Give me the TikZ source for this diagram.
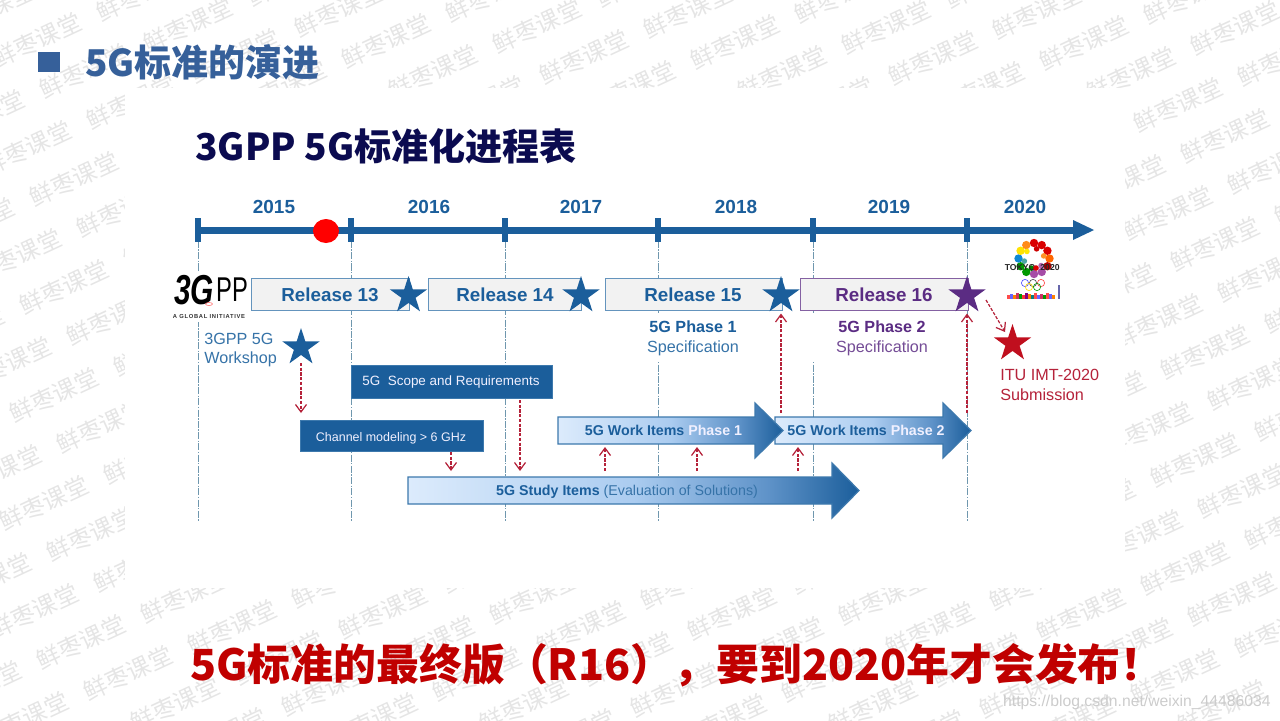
\documentclass[tikz,border=0pt]{standalone}
\usepackage{fontspec}
\setmainfont{Liberation Sans}
\newfontfamily\cjk{Noto Sans CJK SC}
\usetikzlibrary{arrows.meta,shapes.geometric}
\definecolor{barblue}{HTML}{1B5E9B}
\definecolor{softblue}{HTML}{3673A8}
\definecolor{edgeblue}{HTML}{3D79AD}
\definecolor{guideblue}{HTML}{6F97AE}
\definecolor{relpurple}{HTML}{5B2C83}
\definecolor{titleblue}{HTML}{36609A}
\definecolor{titlenavy}{HTML}{0B0B50}
\definecolor{slogred}{HTML}{C00000}
\definecolor{linkred}{HTML}{B5223A}
\definecolor{ituRed}{HTML}{C00F1E}
\definecolor{fadeA}{HTML}{DCEBFC}
\definecolor{fadeB}{HTML}{ABCCF0}
\definecolor{fadeC}{HTML}{5E92C8}
\pgfdeclarehorizontalshading{blockfade}{100bp}{color(0bp)=(fadeA); color(25bp)=(fadeA); color(50bp)=(fadeB); color(65bp)=(fadeC); color(75bp)=(barblue); color(100bp)=(barblue)}
\tikzset{
    mark text/.style={font=\cjk\fontsize{13.6}{15}\selectfont, text=black!10, rotate=25, inner sep=0},
    year/.style={font=\fontsize{10.8}{12}\selectfont\bfseries, text=barblue, inner sep=0},
    release/.style={draw=edgeblue!80, fill=black!5, line width=0.45pt},
    reltext/.style={font=\fontsize{10.7}{12}\selectfont\bfseries, text=barblue, inner sep=0},
    relstar/.style={star, star points=5, star point ratio=2.618, minimum size=0.78cm, inner sep=0, fill=barblue},
    note/.style={font=\fontsize{9.2}{11}\selectfont, text=softblue, inner sep=0},
    darkbox/.style={fill=barblue, draw=edgeblue, line width=0.3pt},
    boxtext/.style={text=blue!6!white, inner sep=0},
    block/.style={shading=blockfade, draw=edgeblue, line width=0.7pt},
    blocktext/.style={font=\fontsize{8.1}{10}\selectfont\bfseries, text=barblue, inner sep=0},
    guide/.style={draw=guideblue, line width=0.5pt, dash pattern=on 4pt off 0.8pt on 0.8pt off 0.8pt},
    redlink/.style={draw=linkred, line width=0.7pt, dash pattern=on 1.8pt off 0.9pt, -{Straight Barb[length=0.15cm,width=0.22cm]}},
}
\begin{document}
\begin{tikzpicture}[x=0.02cm, y=-0.02cm]
    \useasboundingbox (0,0) rectangle (1280,720);
    \clip (0,0) rectangle (1280,720);
    % watermark lattice, only where it can show
    \foreach \i in {-12,...,34} {
        \foreach \j in {-16,...,16} {
            \pgfmathsetmacro{\wx}{74+47*\i+104*\j}
            \pgfmathsetmacro{\wy}{179+31*\i-46*\j}
            \pgfmathtruncatemacro{\wshow}{and(and(\wx>-50,\wx<1330),and(\wy>-30,\wy<750))*not(and(and(\wx>180,\wx<1070),and(\wy>135,\wy<540)))}
            \ifnum\wshow=1
                \node[mark text] (wm-\i-\j) at (\wx, \wy) {鲜枣课堂};
            \fi
        }
    }
    \fill[white] (125,88) rectangle (1125,588);
    \node[font=\fontsize{8.95}{11}\selectfont, text=black!20, anchor=east, inner sep=0] (weblink) at (1271,702) {https://blog.csdn.net/weixin\_44486034};

    % titles
    \fill[titleblue] (38,52) rectangle (60,72);
    \node[font=\cjk\fontsize{21}{24}\selectfont\bfseries, text=titleblue, anchor=west, inner sep=0] (slidetitle) at (85,62) {5G标准的演进};
    \node[font=\cjk\fontsize{21.1}{24}\selectfont\bfseries, text=titlenavy, anchor=west, inner sep=0] (charttitle) at (195,146) {3GPP 5G标准化进程表};
    \node[font=\cjk\fontsize{24.4}{28}\selectfont\bfseries, text=slogred, anchor=west, inner sep=0] (slogan) at (190,665) {5G标准的最终版（R16），要到2020年才会发布！};

    % guides and time axis
    \foreach \tx in {198,351,505,658,813,967} {
        \draw[guide] (\tx, 241) to (\tx, 521);
    }
    \fill[white] (170,272) rectangle (248,322);
    \fill[white] (640,313) rectangle (930,362);
    \fill[barblue] (196,226.5) rectangle (1074,233.5);
    \fill[barblue] (1073,220) -- (1094,230) -- (1073,240) -- cycle;
    \foreach \tx in {198,351,505,658,813,967} {
        \fill[barblue] (\tx-3.3, 218) rectangle (\tx+3.3, 242);
    }
    \fill[red] (326,231) ellipse (13 and 12);
    \node[year] (y2015) at (274,207) {2015};
    \node[year] (y2016) at (429,207) {2016};
    \node[year] (y2017) at (581,207) {2017};
    \node[year] (y2018) at (736,207) {2018};
    \node[year] (y2019) at (889,207) {2019};
    \node[year] (y2020) at (1025,207) {2020};

    % releases
    \draw[release] (251,278) rectangle (409,310);
    \draw[release] (428,278) rectangle (581,310);
    \draw[release] (605,278) rectangle (782,310);
    \draw[release, draw=relpurple!75] (800,278) rectangle (968,310);
    \node[reltext] (rel13) at (330,295) {Release 13};
    \node[reltext] (rel14) at (505,295) {Release 14};
    \node[reltext] (rel15) at (693,295) {Release 15};
    \node[reltext, text=relpurple] (rel16) at (884,295) {Release 16};
    \node[relstar] (star13) at (408.5,295.5) {};
    \node[relstar] (star14) at (581,295.5) {};
    \node[relstar] (star15) at (781,295.5) {};
    \node[relstar, fill=relpurple] (star16) at (967,295.5) {};
    \node[relstar] (starws) at (301,347.5) {};
    \node[relstar, fill=ituRed] (staritu) at (1012.5,343.5) {};

    % notes
    \node[note, anchor=west] (wsa) at (204,339) {3GPP 5G};
    \node[note, anchor=west] (wsb) at (204,359.5) {Workshop};
    \node[note, font=\fontsize{9.2}{11}\selectfont\bfseries, text=barblue] (ph1) at (693,327) {5G Phase 1};
    \node[note] (spec1) at (693,348.5) {Specification};
    \node[note, font=\fontsize{9.2}{11}\selectfont\bfseries, text=relpurple] (ph2) at (882,327) {5G Phase 2};
    \node[note, text=relpurple!85] (spec2) at (882,348.5) {Specification};
    \node[note, text=linkred, anchor=west] (itua) at (1000,375) {ITU IMT-2020};
    \node[note, text=linkred, anchor=west] (itub) at (1000,395) {Submission};

    % work boxes
    \draw[darkbox] (351,365) rectangle (552,398);
    \node[boxtext, font=\fontsize{7.65}{9}\selectfont] (scope) at (451,382.5) {5G\ \ Scope and Requirements};
    \draw[darkbox] (300,420) rectangle (483,451);
    \node[boxtext, font=\fontsize{7.1}{9}\selectfont] (channel) at (391,438) {Channel modeling > 6 GHz};

    % block arrows
    \path[block] (408,477) -- (832,477) -- (832,463) -- (859,490.5) -- (832,518) -- (832,504) -- (408,504) -- cycle;
    \path[block] (775,417) -- (943,417) -- (943,403) -- (971,430.5) -- (943,458) -- (943,444) -- (775,444) -- cycle;
    \path[block] (558,417) -- (755,417) -- (755,403) -- (783,430.5) -- (755,458) -- (755,444) -- (558,444) -- cycle;
    \node[blocktext] (study) at (627,491.5) {5G Study Items \textcolor{softblue}{\mdseries (Evaluation of Solutions)}};
    \node[blocktext] (work1) at (663.5,430.5) {5G Work Items \textcolor{blue!6!white}{Phase 1}};
    \node[blocktext] (work2) at (866,430.5) {5G Work Items \textcolor{blue!6!white}{Phase 2}};

    % red links
    \coordinate (chanend) at (301,413);
    \coordinate (chanout) at (451,452);
    \coordinate (chanin) at (451,471);
    \coordinate (scopeout) at (520,400);
    \coordinate (scopein) at (520,471);
    \coordinate (studya) at (605,471);
    \coordinate (worka) at (605,447);
    \coordinate (studyb) at (697,471);
    \coordinate (workb) at (697,447);
    \coordinate (studyc) at (798,471);
    \coordinate (workc) at (798,447);
    \coordinate (phaseone) at (781,413);
    \coordinate (phasetwo) at (967,413);
    \coordinate (itustart) at (986,300);
    \coordinate (ituend) at (1005,332);
    \draw[redlink] ([yshift=-0.31cm]starws.center) to (chanend);
    \draw[redlink] (chanout) to (chanin);
    \draw[redlink] (scopeout) to (scopein);
    \draw[redlink] (studya) to (worka);
    \draw[redlink] (studyb) to (workb);
    \draw[redlink] (studyc) to (workc);
    \draw[redlink] (phaseone) to ([yshift=-0.36cm]star15.center);
    \draw[redlink] (phasetwo) to ([yshift=-0.36cm]star16.center);
    \draw[redlink] (itustart) to (ituend);

    % 3GPP logo
    \node[font=\bfseries\itshape\fontsize{17}{20}\selectfont, text=black, inner sep=0] (logog) at (194,290) {\scalebox{1}[1.4]{3G}};
    \node[font=\fontsize{13.5}{14}\selectfont, text=black, inner sep=0] (logop) at (232,290) {\scalebox{1}[1.45]{PP}};
    \draw[red!60, line width=0.3pt] (209,304) ellipse (3.5 and 1.5);
    \node[font=\fontsize{3.3}{4}\selectfont\bfseries\addfontfeature{LetterSpace=12}, text=black!80, inner sep=0] (logotag) at (209,316) {A GLOBAL INITIATIVE};

    % Tokyo logo
    \foreach \ang/\col in {270/red!85!black, 300/red!85!black, 330/red!85!black, 0/orange!80!red, 30/red!70!black, 60/violet!70, 90/violet!70, 120/green!60!black, 150/green!60!black, 180/cyan!70!blue, 210/yellow!85!orange, 240/orange!90} {
        \fill[\col] ([shift={(\ang:15.5)}]1034,258.5) circle (4.2);
    }
    \foreach \ang/\col in {285/red!80!black, 345/orange!85, 45/violet!60, 105/green!50!black, 165/teal!70, 225/yellow!90!orange} {
        \fill[\col] ([shift={(\ang:10)}]1034,258.5) circle (2.8);
    }
    \node[font=\fontsize{4.9}{6}\selectfont\bfseries, text=black!85, inner sep=0] (tokyo) at (1020,268) {TOKYO};
    \node[font=\fontsize{4.9}{6}\selectfont\bfseries, text=black!85, inner sep=0] (tokyoyear) at (1050,268) {2020};
    \fill[red!85!black] (1036,268) circle (2.8);
    \foreach \cx/\cy/\col in {1025/283/blue!70, 1033/283/black!70, 1041/283/red!75, 1029/287/yellow!80!orange, 1037/287/green!60!black} {
        \draw[\col, line width=0.35pt] (\cx,\cy) circle (3.6);
    }
    \foreach \bx/\bh/\col in {1007/4/red!70, 1010/5/blue!60, 1013/4/orange, 1016/6/purple!80, 1019/5/green!60!black, 1022/4/red!80, 1025/6/violet, 1028/5/orange, 1031/4/teal, 1034/6/red!70, 1037/4/blue!60, 1040/5/purple!80, 1043/4/green!60!black, 1046/6/red!70, 1049/5/blue!60, 1052/4/orange} {
        \fill[\col] (\bx,299) rectangle (\bx+3,299-\bh);
    }
    \fill[blue!45!black!60] (1057.8,299) rectangle (1059.6,285);
\end{tikzpicture}
\end{document}
